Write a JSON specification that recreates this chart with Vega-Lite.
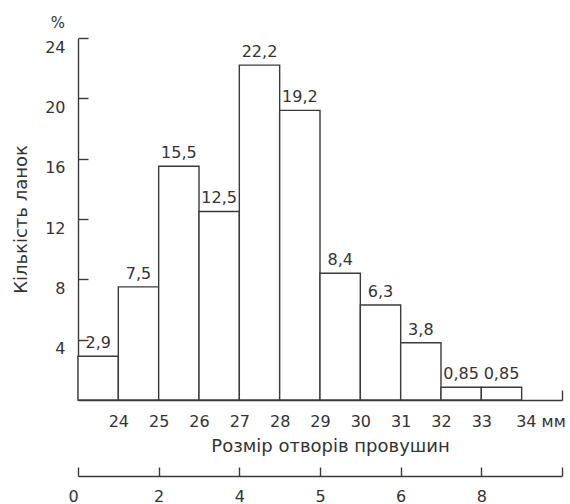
{
  "$schema": "https://vega.github.io/schema/vega-lite/v6.json",
  "width": 484,
  "height": 362,
  "autosize": {"type": "none"},
  "padding": {"left": 78, "top": 38, "right": 8, "bottom": 104},
  "config": {
    "view": {"stroke": null},
    "font": "DejaVu Sans",
    "locale": {"number": {"decimal": ",", "thousands": " ", "grouping": [3], "currency": ["", ""]}}
  },
  "data": {
    "values": [
      {"from": 23, "to": 24, "mid": 23.5, "pct": 2.9},
      {"from": 24, "to": 25, "mid": 24.5, "pct": 7.5},
      {"from": 25, "to": 26, "mid": 25.5, "pct": 15.5},
      {"from": 26, "to": 27, "mid": 26.5, "pct": 12.5},
      {"from": 27, "to": 28, "mid": 27.5, "pct": 22.2},
      {"from": 28, "to": 29, "mid": 28.5, "pct": 19.2},
      {"from": 29, "to": 30, "mid": 29.5, "pct": 8.4},
      {"from": 30, "to": 31, "mid": 30.5, "pct": 6.3},
      {"from": 31, "to": 32, "mid": 31.5, "pct": 3.8},
      {"from": 32, "to": 33, "mid": 32.5, "pct": 0.85},
      {"from": 33, "to": 34, "mid": 33.5, "pct": 0.85}
    ]
  },
  "layer": [
    {
      "mark": {"type": "bar", "fill": "white", "stroke": "#3a3a3a", "strokeWidth": 1.4},
      "encoding": {
        "x": {
          "field": "from", "type": "quantitative",
          "scale": {"domain": [23, 35], "nice": false, "zero": false},
          "axis": {
            "orient": "bottom",
            "values": [24, 25, 26, 27, 28, 29, 30, 31, 32, 33, 34, 35],
            "labelExpr": "datum.value == 35 ? '' : datum.value == 34 ? '34 мм' : datum.label",
            "labelAlign": {"condition": {"test": "datum.value == 34", "value": "left"}, "value": "center"},
            "labelOffset": {"condition": {"test": "datum.value == 34", "value": -6}, "value": 0},
            "labelFlush": false,
            "grid": false,
            "domainColor": "#3a3a3a",
            "domainWidth": 1.4,
            "tickSize": -10,
            "tickWidth": 1.4,
            "tickColor": {"condition": {"test": "datum.value == 35", "value": "#3a3a3a"}, "value": "transparent"},
            "labelFontSize": 16,
            "labelColor": "#333",
            "labelPadding": 23,
            "labelBound": false,
            "labelOverlap": false,
            "title": "Розмір отворів провушин",
            "titleX": 252,
            "titleFontSize": 18,
            "titleFontWeight": "normal",
            "titleColor": "#333",
            "titlePadding": 8
          }
        },
        "x2": {"field": "to"},
        "y": {
          "field": "pct", "type": "quantitative",
          "scale": {"domain": [0, 24], "nice": false},
          "axis": {
            "values": [4, 8, 12, 16, 20, 24],
            "grid": false,
            "domainColor": "#3a3a3a",
            "domainWidth": 1.4,
            "tickSize": -10,
            "tickWidth": 1.4,
            "tickColor": "#3a3a3a",
            "labelFontSize": 16,
            "labelColor": "#333",
            "labelPadding": 23,
            "labelOffset": 9,
            "labelBound": false,
            "labelFlush": false,
            "title": "Кількість ланок",
            "titleFontSize": 18,
            "titleFontWeight": "normal",
            "titleColor": "#333",
            "titlePadding": 14
          }
        },
        "y2": {"datum": 0}
      }
    },
    {
      "mark": {"type": "rule", "opacity": 0},
      "encoding": {
        "x": {
          "field": "from", "type": "quantitative",
          "scale": {"domain": [23, 35], "nice": false, "zero": false},
          "axis": {
            "orient": "bottom",
            "offset": 76,
            "values": [23, 25, 27, 29, 31, 33, 35],
            "labelExpr": "datum.value == 23 ? '0' : datum.value == 25 ? '2' : datum.value == 27 ? '4' : datum.value == 29 ? '5' : datum.value == 31 ? '6' : datum.value == 33 ? '8' : ''",
            "labelOffset": {"condition": {"test": "datum.value == 23", "value": -5}, "value": 0},
            "labelFlush": false,
            "grid": false,
            "domainColor": "#3a3a3a",
            "domainWidth": 1.4,
            "tickSize": -9,
            "tickWidth": 1.4,
            "tickColor": "#3a3a3a",
            "labelFontSize": 16,
            "labelColor": "#333",
            "labelPadding": 21,
            "labelBound": false,
            "title": null
          }
        }
      }
    },
    {
      "mark": {"type": "text", "baseline": "alphabetic", "dy": -8, "fontSize": 16, "color": "#333"},
      "encoding": {
        "x": {"field": "mid", "type": "quantitative", "axis": null},
        "y": {"field": "pct", "type": "quantitative"},
        "text": {"field": "pct", "type": "quantitative", "format": "~g"}
      }
    },
    {
      "data": {"values": [{"x": 22.5, "pct": 25.0, "t": "%"}]},
      "mark": {"type": "text", "fontSize": 15, "color": "#333", "clip": false},
      "encoding": {
        "x": {"field": "x", "type": "quantitative", "axis": null},
        "y": {"field": "pct", "type": "quantitative"},
        "text": {"field": "t"}
      }
    }
  ],
  "resolve": {"axis": {"x": "independent"}}
}
